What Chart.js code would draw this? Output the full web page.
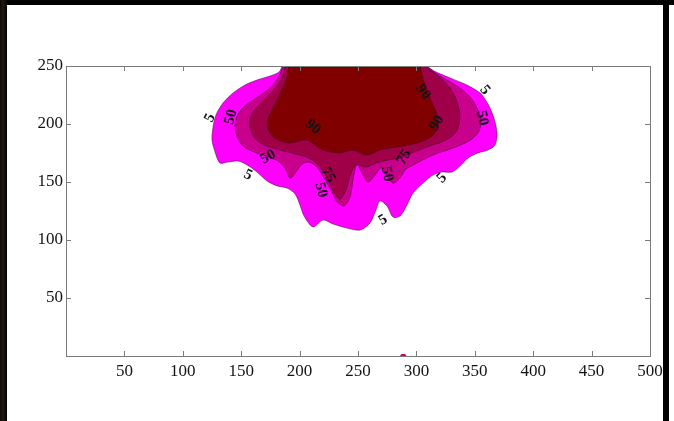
<!DOCTYPE html>
<html>
<head>
<meta charset="utf-8">
<script src="https://cdn.jsdelivr.net/npm/chart.js"></script>
<style>
  html, body { margin: 0; padding: 0; background: #fff; }
  #wrap { position: relative; width: 674px; height: 421px; overflow: hidden; background: #fff; }
  #plot { position: absolute; left: 0; top: 0; }
  .edge { position: absolute; background: #000; }
  #edgeTop { left: 0; top: 0; width: 674px; height: 5px; }
  #edgeLeft { left: 0; top: 0; width: 7px; height: 421px;
    background: linear-gradient(to right, #120a07 0%, #24180f 45%, #050302 100%); }
  #edgeRight { left: 663px; top: 0; width: 6px; height: 421px; }
</style>
</head>
<body>
<div id="wrap">
  <canvas id="plot" width="674" height="421"></canvas>
  <div class="edge" id="edgeTop"></div>
  <div class="edge" id="edgeLeft"></div>
  <div class="edge" id="edgeRight"></div>
</div>
<script>
/* ---- axis ticks ---- */
const xTicks = [0, 50, 100, 150, 200, 250, 300, 350, 400, 450, 500];
const yTicks = [0, 50, 100, 150, 200, 250];

/* ---- filled contour outlines (data units), outer to inner ---- */
const level5 = [
  [185, 250], [182.4, 244.8], [174.7, 241.4], [163.5, 237.9], [153.3, 233.6], [143, 226.7],
  [134.4, 218.1], [128.4, 207.8], [125.9, 197.4], [125, 186.2], [127.6, 175.9], [131.8, 166.4],
  [138.7, 167.2], [147.3, 168.1], [155, 164.7], [163.5, 158.6], [172.1, 150.9], [180.7, 146.6],
  [189.2, 144.8], [196.1, 139.7], [200.3, 130.2], [203.8, 120.7], [211.5, 111.2], [220, 117.2],
  [228.6, 113.8], [240.6, 110.3], [251.7, 108.6], [260.3, 114.7], [265.4, 125.9], [268.8, 133.6],
  [274.8, 129.3], [280, 119.8], [286, 120.7], [292, 130.2], [297.1, 140.5], [305.7, 149.1],
  [314.2, 156], [321.9, 158.6], [330.5, 158.6], [337.3, 163.8], [344.2, 170.7], [352.7, 175],
  [361.3, 177.6], [367.3, 181.9], [369, 192.2], [366.4, 205.2], [361.3, 217.2], [354.5, 226.7],
  [343.3, 233.6], [328.8, 239.7], [315.1, 245.7], [309.1, 250]
];
const level50 = [
  [185.8, 250], [182.4, 241.4], [175.5, 231.9], [164.4, 223.3], [154.1, 216.4], [147.3, 208.6],
  [144.7, 199.1], [146.4, 189.7], [151.5, 181], [161, 175.9], [171.2, 172.4], [181.5, 168.1],
  [187.5, 162.1], [191.8, 153.4], [196.9, 158.6], [202.1, 165.5], [208, 167.2], [214.9, 162.9],
  [220.9, 153.4], [226.9, 143.1], [232, 132.8], [238, 129.3], [243.2, 137.1], [245.7, 151.7],
  [249.1, 165.5], [253.4, 157.8], [258.6, 150], [264.6, 156], [269.7, 162.1], [274.8, 156],
  [280, 149.1], [286, 153.4], [290.2, 160.3], [300.5, 166.4], [314.2, 173.3], [328.8, 178.4],
  [339.9, 182.8], [347.6, 187.1], [353.6, 194], [355.3, 203.4], [351.9, 213.8], [345.9, 223.3],
  [334.8, 232.8], [320.2, 241.4], [308.2, 250]
];
const level75 = [
  [187.5, 250], [184.9, 239.7], [178.1, 229.3], [167.8, 219], [159.2, 208.6], [157.5, 198.3],
  [161, 188.8], [169.5, 181.9], [183.2, 177.6], [196.9, 174.1], [208, 170.7], [215.8, 164.7],
  [223.5, 154.3], [228.6, 142.2], [234.6, 135.3], [239.7, 143.1], [243.2, 155.2], [248.3, 164.7],
  [256.8, 162.9], [265.4, 166.4], [275.7, 169], [286, 170.7], [297.9, 175.9], [311.6, 181],
  [325.3, 186.2], [333.9, 193.1], [337.3, 205.2], [334.8, 219], [328.8, 231], [318.5, 241.4],
  [306.5, 250]
];
const level90 = [
  [190.9, 250], [188.4, 237.9], [183.2, 225.9], [177.2, 213.8], [172.9, 203.4], [173.8, 194],
  [179.8, 187.1], [191.8, 183.6], [206.3, 186.2], [220, 177.6], [234.6, 175], [245.7, 177.6],
  [257.7, 173.3], [268.8, 177.6], [283.4, 180.2], [300.5, 183.6], [313.4, 189.7], [318.5, 199.1],
  [316.8, 210.3], [311.6, 222.4], [306.5, 236.2], [303.1, 250]
];
// tiny speck sitting on the bottom axis
const speck = [[286, 0], [287, 1.5], [290.5, 1.5], [291.5, 0]];

/* ---- contour labels ---- */
const labelText  = ['5', '50', '5', '50', '90', '75', '50', '5', '50', '75', '5', '90', '90', '50', '5'];
const labelX     = [123.3, 141.3, 155.8, 172.9, 211.5, 224.3, 218.3, 271.4, 274.8, 289.4, 321.9, 305.7, 317.6, 356.2, 358.7];
const labelY     = [205.2, 206, 156, 171.6, 197.4, 156, 143.1, 117.2, 156.9, 171.6, 153.4, 227.6, 200.9, 205.2, 229.3];
const labelAngle = [-65, -75, 25, -30, 40, 60, 75, -30, 80, -60, -45, 55, -60, 80, 50];

const COLORS = {
  l5:  '#ff00ff',
  l50: '#c8008c',
  l75: '#a00048',
  l90: '#800000',
  edge: 'rgba(50, 0, 35, 0.6)',
  axis: '#7a7a7a',
  text: '#141414'
};
const SERIF = "'Liberation Serif', 'DejaVu Serif', serif";

function region(points, color, order, line = 0.8) {
  return {
    data: points.map(p => ({ x: p[0], y: p[1] })),
    backgroundColor: color,
    borderColor: COLORS.edge,
    borderWidth: line,
    fill: 'shape',
    pointRadius: 0,
    tension: 0.3,
    order
  };
}

/* box + inward ticks on all four sides, then clabel-style text */
const matlabFrame = {
  id: 'matlabFrame',
  afterDatasetsDraw(chart) {
    const { ctx, chartArea: a, scales: { x, y } } = chart;
    ctx.save();
    ctx.strokeStyle = COLORS.axis;
    ctx.lineWidth = 1;
    ctx.strokeRect(a.left + 0.5, a.top + 0.5, a.right - a.left, a.bottom - a.top);
    ctx.beginPath();
    xTicks.forEach(v => {
      const px = Math.round(x.getPixelForValue(v)) + 0.5;
      ctx.moveTo(px, a.bottom); ctx.lineTo(px, a.bottom - 5);
      ctx.moveTo(px, a.top);    ctx.lineTo(px, a.top + 5);
    });
    yTicks.forEach(v => {
      const py = Math.round(y.getPixelForValue(v)) + 0.5;
      ctx.moveTo(a.left, py);  ctx.lineTo(a.left + 5, py);
      ctx.moveTo(a.right, py); ctx.lineTo(a.right - 5, py);
    });
    ctx.stroke();

    ctx.fillStyle = COLORS.text;
    ctx.font = 'bold 15px ' + SERIF;
    ctx.textAlign = 'center';
    ctx.textBaseline = 'middle';
    labelText.forEach((t, i) => {
      ctx.save();
      ctx.translate(x.getPixelForValue(labelX[i]), y.getPixelForValue(labelY[i]));
      ctx.rotate(labelAngle[i] * Math.PI / 180);
      ctx.fillText(t, 0, 0);
      ctx.restore();
    });
    ctx.restore();
  }
};

new Chart(document.getElementById('plot'), {
  type: 'line',
  data: {
    datasets: [
      region(level90, COLORS.l90, 1),
      region(level75, COLORS.l75, 2),
      region(level50, COLORS.l50, 3),
      region(level5, COLORS.l5, 4),
      region(speck, COLORS.l50, 5, 0)
    ]
  },
  options: {
    responsive: false,
    animation: false,
    layout: { padding: { top: 66, right: 24, left: 0, bottom: 0 } },
    plugins: { legend: { display: false }, tooltip: { enabled: false } },
    scales: {
      x: {
        type: 'linear', min: 0, max: 500,
        grid: { display: false, drawTicks: false },
        border: { display: false },
        afterBuildTicks: s => { s.ticks = xTicks.map(v => ({ value: v })); },
        afterFit: s => { s.height = 65; },
        ticks: {
          autoSkip: false, maxRotation: 0, minRotation: 0, padding: 5,
          color: COLORS.text, font: { family: SERIF, size: 17 },
          callback: v => (v === 0 ? '' : v)
        }
      },
      y: {
        type: 'linear', min: 0, max: 250,
        grid: { display: false, drawTicks: false },
        border: { display: false },
        afterBuildTicks: s => { s.ticks = yTicks.map(v => ({ value: v })); },
        afterFit: s => { s.width = 66; },
        ticks: {
          autoSkip: false, padding: 3,
          color: COLORS.text, font: { family: SERIF, size: 17 },
          callback: v => (v === 0 ? '' : v)
        }
      }
    }
  },
  plugins: [matlabFrame]
});
</script>
</body>
</html>
